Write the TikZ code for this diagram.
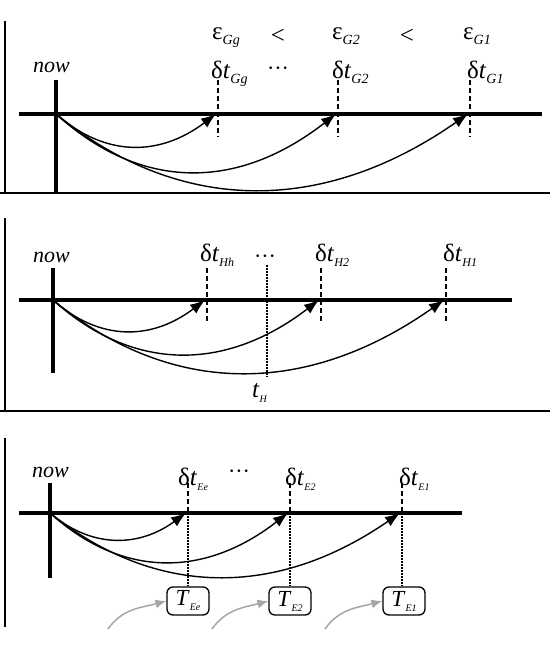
\documentclass[tikz,border=0pt]{standalone}
\usepackage{fontspec}
\setmainfont{Liberation Serif}
\usetikzlibrary{arrows.meta}

\newcommand{\sublab}[2]{\raisebox{-5pt}{\fontsize{#2}{#2}\selectfont\textit{#1}}}
\newcommand{\dtlab}[2]{δ\textit{t}\sublab{#1}{#2}}

\begin{document}
\begin{tikzpicture}[
  x=1pt, y=-1pt,
  axis/.style = {line width=4pt},
  frame/.style = {line width=1.4pt},
  dashline/.style = {line width=1.3pt, dash pattern=on 5pt off 3pt},
  dotline/.style = {line width=1.3pt, dash pattern=on 1.5pt off 1.5pt},
  jump/.style = {line width=1.4pt, -{Latex[length=15pt,width=11pt]}},
  lbl/.style = {inner sep=0pt, anchor=base west, font=\fontsize{22}{24}\selectfont},
  biglbl/.style = {lbl, font=\fontsize{25}{27}\selectfont},
  tbox/.style = {draw, line width=1.3pt, rounded corners=6pt, minimum width=42pt,
                 minimum height=28pt, inner sep=0pt, font=\fontsize{23}{25}\selectfont},
  feed/.style = {draw=gray!70, line width=1.5pt, -{Latex[length=11pt,width=9pt]}, gray!70}
]
\useasboundingbox (0,0) rectangle (550,652);

  % ---- panel G ----
  \draw[frame] (5,21) -- (5,193);
  \draw[frame] (0,193) -- (550,193);
  \draw[axis] (19,114) -- (542,114);
  \draw[axis] (56,80) -- (56,193);
  \coordinate (nowG) at (56,114);
  \node[lbl] (nowlblG) at (33,73) {\textit{now}};

  \coordinate (Gg) at (218,114);
  \coordinate (G2) at (338,114);
  \coordinate (G1) at (470,114);
  \draw[dashline] (218,80) -- (218,137);
  \draw[dashline] (338,80) -- (338,137);
  \draw[dashline] (470,80) -- (470,137);

  \node[biglbl] (dtGg) at (211,79) {\dtlab{Gg}{14}};
  \node[biglbl] (dtG2) at (332,79) {\dtlab{G2}{14}};
  \node[biglbl] (dtG1) at (467,79) {\dtlab{G1}{14}};
  \node[biglbl] (epsGg) at (212,40) {ε\sublab{Gg}{14}};
  \node[biglbl] (epsG2) at (332,40) {ε\sublab{G2}{14}};
  \node[biglbl] (epsG1) at (463,40) {ε\sublab{G1}{14}};
  \node[biglbl, anchor=center] (ltA) at (278,36) {<};
  \node[biglbl, anchor=center] (ltB) at (407,36) {<};
  \node[lbl, anchor=center] (dotsG) at (278,71) {···};

  \draw[jump] (nowG) .. controls +(49,43) and +(-57,43) .. ([xshift=-2pt]Gg);
  \draw[jump] (nowG) .. controls +(85,77) and +(-99,77) .. ([xshift=-2pt]G2);
  \draw[jump] (nowG) .. controls +(124,101) and +(-145,101) .. ([xshift=-2pt]G1);

  % ---- panel H ----
  \draw[frame] (5,218) -- (5,411);
  \draw[frame] (0,411) -- (550,411);
  \draw[axis] (19,300) -- (512,300);
  \draw[axis] (53,268) -- (53,373);
  \coordinate (nowH) at (53,300);
  \node[lbl] (nowlblH) at (33,262) {\textit{now}};

  \coordinate (Hh) at (207,300);
  \coordinate (H2) at (321,300);
  \coordinate (H1) at (446,300);
  \draw[dashline] (207,268) -- (207,322);
  \draw[dashline] (321,268) -- (321,322);
  \draw[dashline] (446,268) -- (446,322);
  \draw[dotline] (267,265) -- (267,377);

  \node[biglbl] (dtHh) at (200,261) {\dtlab{Hh}{12}};
  \node[biglbl] (dtH2) at (315,261) {\dtlab{H2}{12}};
  \node[biglbl] (dtH1) at (443,261) {\dtlab{H1}{12}};
  \node[lbl, anchor=center] (dotsH) at (265,259) {···};
  \node[biglbl] (tH) at (252,397) {\textit{t}\sublab{H}{10}};

  \draw[jump] (nowH) .. controls +(46,41) and +(-54,41) .. ([xshift=-2pt]Hh);
  \draw[jump] (nowH) .. controls +(80,72) and +(-94,72) .. ([xshift=-2pt]H2);
  \draw[jump] (nowH) .. controls +(118,97) and +(-138,97) .. ([xshift=-2pt]H1);

  % ---- panel E ----
  \draw[frame] (5,438) -- (5,627);
  \draw[axis] (19,513) -- (462,513);
  \draw[axis] (50,483) -- (50,578);
  \coordinate (nowE) at (50,513);
  \node[lbl] (nowlblE) at (32,477) {\textit{now}};

  \coordinate (Ee) at (188,513);
  \coordinate (E2) at (290,513);
  \coordinate (E1) at (402,513);
  \node[tbox] (TEe) at (188,601) {\textit{T}\sublab{Ee}{10}};
  \node[tbox] (TE2) at (290,601) {\textit{T}\sublab{E2}{10}};
  \node[tbox] (TE1) at (404,601) {\textit{T}\sublab{E1}{10}};
  \draw[dashline] (188,483) -- (Ee);
  \draw[dashline] (290,483) -- (E2);
  \draw[dashline] (402,483) -- (E1);
  \draw[dotline] (Ee) -- (TEe.north);
  \draw[dotline] (E2) -- (TE2.north);
  \draw[dotline] (E1) -- (TE1.north -| E1);

  \node[biglbl] (dtEe) at (178,485) {\dtlab{Ee}{10}};
  \node[biglbl] (dtE2) at (285,485) {\dtlab{E2}{10}};
  \node[biglbl] (dtE1) at (399,485) {\dtlab{E1}{10}};
  \node[lbl, anchor=center] (dotsE) at (239,474) {···};

  \draw[jump] (nowE) .. controls +(41,35) and +(-48,35) .. ([xshift=-2pt]Ee);
  \draw[jump] (nowE) .. controls +(72,65) and +(-84,65) .. ([xshift=-2pt]E2);
  \draw[jump] (nowE) .. controls +(106,85) and +(-123,85) .. ([xshift=-2pt]E1);

  % incoming requests
  \coordinate (inEe) at (108,629);
  \coordinate (inE2) at (212,629);
  \coordinate (inE1) at (325,629);
  \draw[feed] (inEe) to[out=55,in=195] (TEe.west);
  \draw[feed] (inE2) to[out=55,in=195] (TE2.west);
  \draw[feed] (inE1) to[out=55,in=195] (TE1.west);

\end{tikzpicture}
\end{document}
